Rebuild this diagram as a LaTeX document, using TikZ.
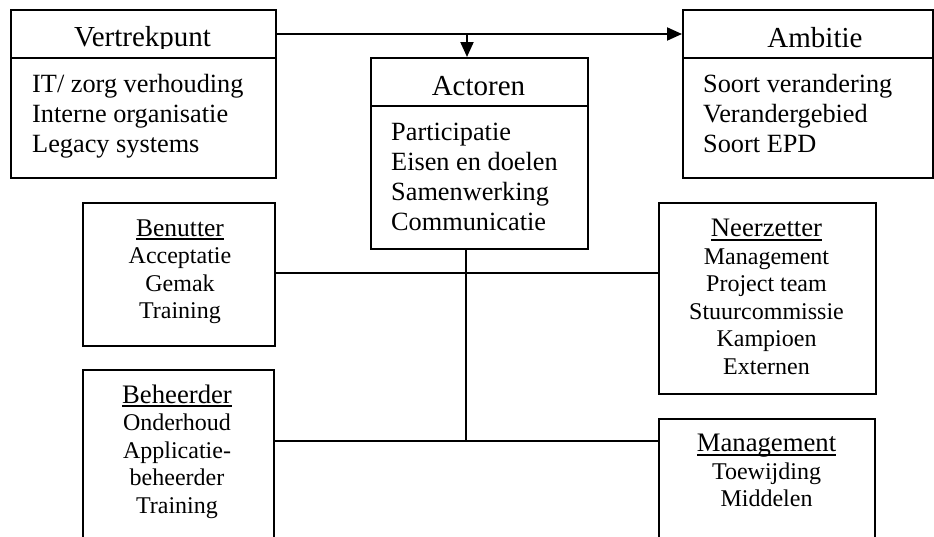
\documentclass[tikz,border=0pt]{standalone}
\usepackage{fontspec}
\setmainfont{Liberation Serif}
\usetikzlibrary{arrows.meta}
% underlined heading: rule drawn a little below the baseline
\newcommand{\ulhead}[1]{\setbox0\hbox{#1}\rlap{\rule[-4pt]{\wd0}{1.6pt}}\box0}
\newcommand{\cardhead}[1]{{\fontsize{26.7}{27.5}\selectfont\ulhead{#1}}}

\begin{document}
\begin{tikzpicture}[x=1pt,y=-1pt,
  frame/.style={draw,line width=2pt,inner sep=0pt,anchor=north west},
  link/.style={line width=2pt},
  arrowlink/.style={link,-{Triangle[length=15pt,width=13pt]}},
  headtext/.style={inner sep=0pt,anchor=base,font=\fontsize{29}{34}\selectfont},
  listtext/.style={inner sep=0pt,anchor=base west,font=\fontsize{26.3}{30}\selectfont},
  cardtext/.style={inner sep=0pt,anchor=base,font=\fontsize{24}{27.5}\selectfont}]

\useasboundingbox (0,0) rectangle (934,536);

% --- top row: starting point, actors, ambition ---
\node[frame,minimum width=265pt,minimum height=48pt]  (vtkh) at (10,9) {};
\node[frame,minimum width=265pt,minimum height=120pt] (vtkb) at (10,57) {};
\node[frame,minimum width=250pt,minimum height=48pt]  (ambh) at (682,9) {};
\node[frame,minimum width=250pt,minimum height=120pt] (ambb) at (682,57) {};
\node[frame,minimum width=217pt,minimum height=48pt]  (acth) at (370,57) {};
\node[frame,minimum width=217pt,minimum height=143pt] (actb) at (370,105) {};

\begin{scope}
  \clip (10,9) rectangle (275,48);
  \node[headtext] (vtkt) at (142.5,46.5) {Vertrekpunt};
\end{scope}
\node[headtext] (ambt) at (815,47) {Ambitie};
\node[headtext] (actt) at (478.5,95) {Actoren};

\node[listtext] (vtkl) at (32,92)
  {\begin{tabular}[t]{@{}l@{}}IT/ zorg verhouding\\Interne organisatie\\Legacy systems\end{tabular}};
\node[listtext] (ambl) at (703,92)
  {\begin{tabular}[t]{@{}l@{}}Soort verandering\\Verandergebied\\Soort EPD\end{tabular}};
\node[listtext] (actl) at (391,140)
  {\begin{tabular}[t]{@{}l@{}}Participatie\\Eisen en doelen\\Samenwerking\\Communicatie\end{tabular}};

% --- actor groups ---
\node[frame,minimum width=192pt,minimum height=143pt] (ben) at (82,202) {};
\node[frame,minimum width=217pt,minimum height=191pt] (nee) at (658,202) {};
\node[frame,minimum width=191pt,minimum height=200pt] (beh) at (82,369) {};
\node[frame,minimum width=216pt,minimum height=150pt] (man) at (658,418) {};

\node[cardtext] (bent) at (180,236)
  {\begin{tabular}[t]{@{}c@{}}{\fontsize{25.5}{27.5}\selectfont\ulhead{Benutter}}\\Acceptatie\\Gemak\\Training\end{tabular}};
\node[cardtext] (neet) at (766.5,236.5)
  {\begin{tabular}[t]{@{}c@{}}\cardhead{Neerzetter}\\Management\\Project team\\Stuurcommissie\\Kampioen\\Externen\end{tabular}};
\node[cardtext] (beht) at (177,403)
  {\begin{tabular}[t]{@{}c@{}}\cardhead{Beheerder}\\Onderhoud\\Applicatie-\\beheerder\\Training\end{tabular}};
\node[cardtext] (mant) at (766.5,451.5)
  {\begin{tabular}[t]{@{}c@{}}\cardhead{Management}\\Toewijding\\Middelen\end{tabular}};

% --- connectors ---
\coordinate (drop) at (467,33);
\coordinate (hub1) at (466,273);
\coordinate (hub2) at (466,441);

\draw[arrowlink] (vtkh.east) -- (ambh.west);
\draw[arrowlink] (drop) -- (acth.north -| drop);
\draw[link] (actb.south -| hub1) -- (hub2);
\draw[link] (ben.east |- hub1) -- (nee.west |- hub1);
\draw[link] (beh.east |- hub2) -- (man.west |- hub2);
\end{tikzpicture}
\end{document}
